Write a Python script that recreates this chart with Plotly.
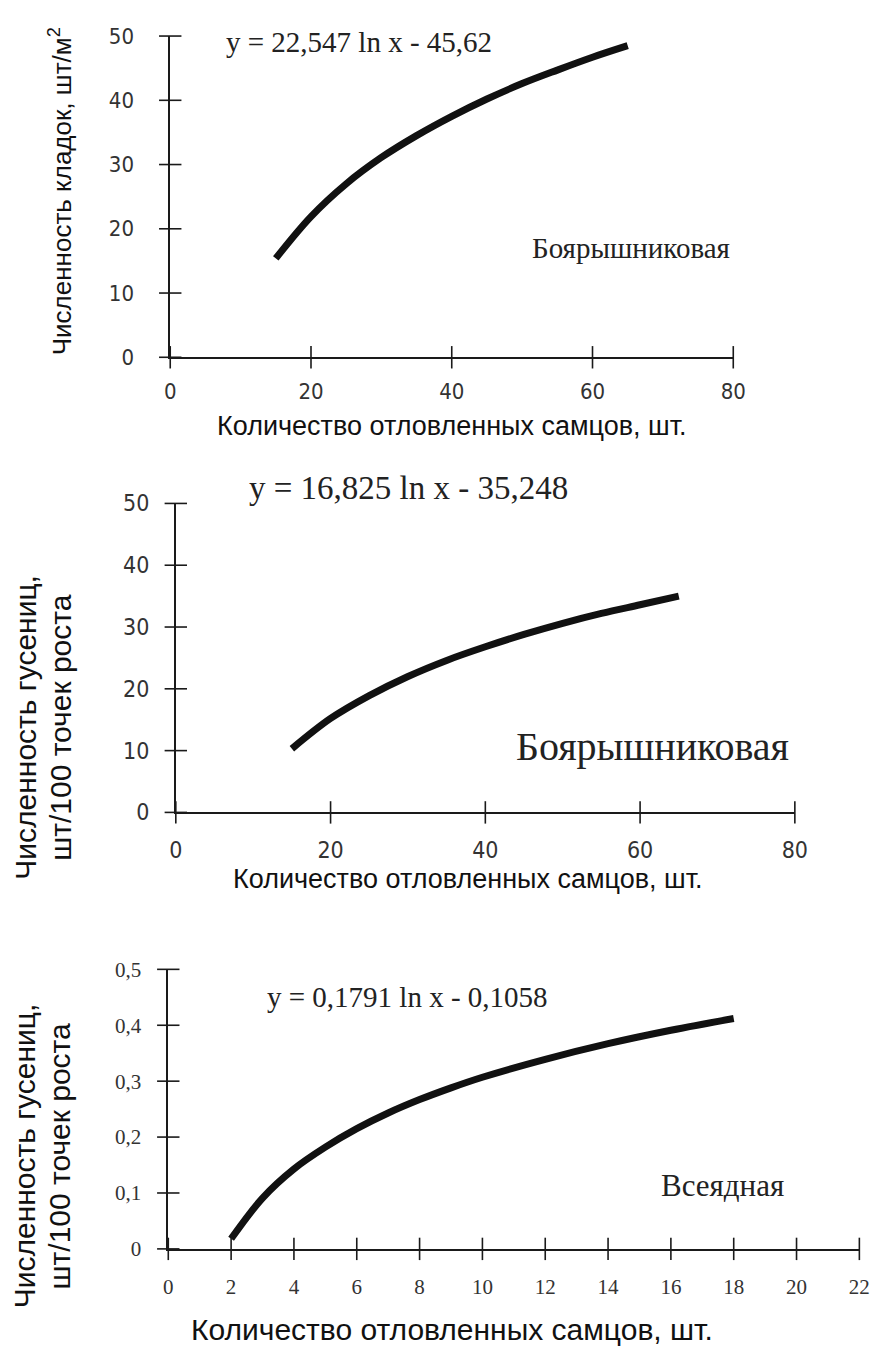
import plotly.graph_objects as go

W, H = 888, 1359

# ---- data ----
x1 = [15, 20, 25, 30, 35, 40, 45, 50, 55, 60, 65]
y1 = [15.4, 21.9, 27.0, 31.1, 34.5, 37.5, 40.2, 42.6, 44.7, 46.7, 48.5]

x2 = [15, 20, 25, 30, 35, 40, 45, 50, 55, 60, 65]
y2 = [10.3, 15.2, 18.9, 22.0, 24.6, 26.8, 28.8, 30.6, 32.2, 33.6, 35.0]

x3 = [2, 3, 4, 5, 6, 7, 8, 9, 10, 12, 14, 16, 18]
y3 = [0.018, 0.091, 0.143, 0.182, 0.215, 0.243, 0.267, 0.288, 0.307, 0.339, 0.367, 0.391, 0.412]

ticks_x12 = [0, 20, 40, 60, 80]
ticks_y12 = [0, 10, 20, 30, 40, 50]
ticks_x3 = [0, 2, 4, 6, 8, 10, 12, 14, 16, 18, 20, 22]
ticks_y3 = [0, 0.1, 0.2, 0.3, 0.4, 0.5]
ticks_y3_text = ["0", "0,1", "0,2", "0,3", "0,4", "0,5"]

eq1 = "y = 22,547 ln x - 45,62"
eq2 = "y = 16,825 ln x - 35,248"
eq3 = "y = 0,1791 ln x - 0,1058"
label12 = "Боярышниковая"
label3 = "Всеядная"
xtitle = "Количество отловленных самцов, шт."
ytitle1 = "Численность кладок, шт/м<sup>2</sup>"
ytitle23_a = "Численность гусениц,"
ytitle23_b = "шт/100 точек роста"


def px(v):
    return v / W


def py(v):
    return 1 - v / H


CONDENSED = "DejaVu Sans Condensed, Liberation Sans Narrow, Liberation Sans, sans-serif"
SERIF = "Liberation Serif, Times New Roman, serif"
SANS = "Liberation Sans, Arial, sans-serif"
INK = "#1a1a1a"

panels = [
    dict(x=x1, y=y1, xd=[px(167), px(743)], yd=[py(351), py(23.5)], xr=[0, 80], yr=[0, 50],
         xt=ticks_x12, yt=ticks_y12, ytt=[str(v) for v in ticks_y12],
         tf=dict(family=CONDENSED, size=22, color="#333"), ystand=22, xstand=6),
    dict(x=x2, y=y2, xd=[px(172.7), px(806)], yd=[py(815), py(500)], xr=[0, 80], yr=[0, 50],
         xt=ticks_x12, yt=ticks_y12, ytt=[str(v) for v in ticks_y12],
         tf=dict(family=CONDENSED, size=23, color="#333"), ystand=12, xstand=8),
    dict(x=x3, y=y3, xd=[px(165), px(872)], yd=[py(1260), py(975)], xr=[0, 22], yr=[0, 0.5],
         xt=ticks_x3, yt=ticks_y3, ytt=ticks_y3_text,
         tf=dict(family=SERIF, size=21, color="#333"), ystand=13, xstand=10),
]

fig = go.Figure()
layout = {}
for i, p in enumerate(panels):
    n = i + 1
    sx = "" if n == 1 else str(n)
    # the curve
    fig.add_trace(go.Scatter(x=p["x"], y=p["y"], mode="lines",
                             line=dict(color="#111111", width=7, shape="spline"),
                             xaxis="x" + sx, yaxis="y" + sx, showlegend=False, hoverinfo="skip"))
    # crossing tick marks on the x axis
    fig.add_trace(go.Scatter(x=p["xt"], y=[p["yr"][0]] * len(p["xt"]), mode="markers",
                             marker=dict(symbol="line-ns", size=16, line=dict(color=INK, width=1.6)),
                             cliponaxis=False, xaxis="x" + sx, yaxis="y" + sx,
                             showlegend=False, hoverinfo="skip"))
    # crossing tick marks on the y axis
    fig.add_trace(go.Scatter(x=[p["xr"][0]] * len(p["yt"]), y=p["yt"], mode="markers",
                             marker=dict(symbol="line-ew", size=16, line=dict(color=INK, width=1.6)),
                             cliponaxis=False, xaxis="x" + sx, yaxis="y" + sx,
                             showlegend=False, hoverinfo="skip"))
    common = dict(showgrid=False, zeroline=False, tickcolor="rgba(0,0,0,0)", ticklen=8,
                  ticks="outside", showline=True, linecolor=INK, linewidth=1.6,
                  tickfont=p["tf"], fixedrange=True)
    layout["xaxis" + sx] = dict(domain=p["xd"], range=p["xr"], anchor="y" + sx,
                                tickmode="array", tickvals=p["xt"],
                                ticklabelstandoff=p["xstand"], **common)
    layout["yaxis" + sx] = dict(domain=p["yd"], range=p["yr"], anchor="x" + sx,
                                tickmode="array", tickvals=p["yt"], ticktext=p["ytt"],
                                ticklabelstandoff=p["ystand"], **common)


def note(text, x, y, size, family=SERIF, angle=0, color="#222"):
    return dict(text=text, x=px(x), y=py(y), xref="paper", yref="paper",
                xanchor="center", yanchor="middle", textangle=angle,
                font=dict(family=family, size=size, color=color), showarrow=False)


ann = [
    note(eq1, 360, 30, 29),
    note(label12, 638, 240, 29),
    note(eq2, 411, 484, 33),
    note(label12, 660, 748, 40),
    note(eq3, 410, 1003, 29),
    note(label3, 732, 1195, 31),
    note(xtitle, 455, 421, 27, SANS, color="#111"),
    note(xtitle, 472, 883, 27, SANS, color="#111"),
    note(xtitle, 455, 1342, 30, SANS, color="#111"),
    note(ytitle1, 55, 182, 26, SANS, angle=-90, color="#111"),
    note(ytitle23_a, 18, 728, 30, SANS, angle=-90, color="#111"),
    note(ytitle23_b, 54, 728, 30, SANS, angle=-90, color="#111"),
    note(ytitle23_a, 18, 1165, 30, SANS, angle=-90, color="#111"),
    note(ytitle23_b, 54, 1165, 30, SANS, angle=-90, color="#111"),
]

fig.update_layout(width=W, height=H, margin=dict(l=0, r=0, t=0, b=0),
                  plot_bgcolor="white", paper_bgcolor="white", annotations=ann, **layout)

fig.write_html("out.html")
